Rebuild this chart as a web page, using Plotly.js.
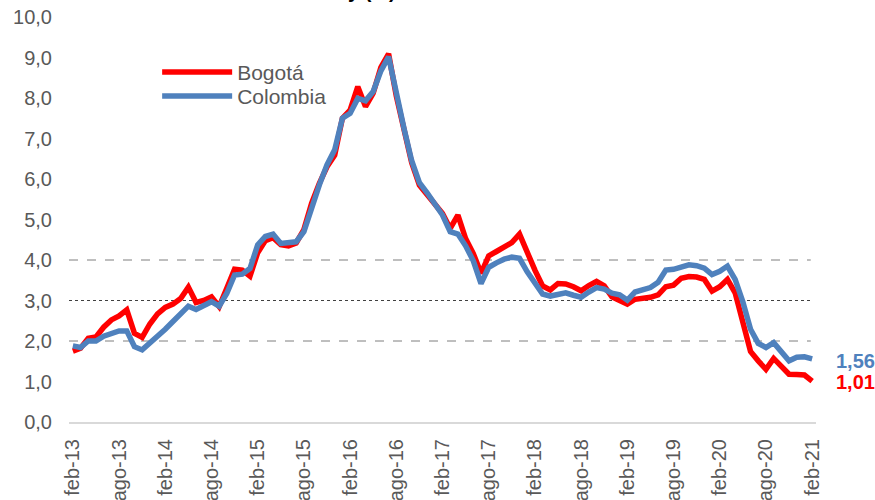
<!DOCTYPE html>
<html>
<head>
<meta charset="utf-8">
<script src="https://cdn.plot.ly/plotly-3.0.1.min.js"></script>
<style>
  html, body { margin: 0; padding: 0; background: #ffffff; }
  #chart { width: 875px; height: 500px; }
</style>
</head>
<body>
<div id="chart"></div>
<script>
// Categories (monthly, feb-13 .. feb-21)
const months = [
  "feb-13","mar-13","abr-13","may-13","jun-13","jul-13","ago-13","sep-13","oct-13","nov-13","dic-13","ene-14",
  "feb-14","mar-14","abr-14","may-14","jun-14","jul-14","ago-14","sep-14","oct-14","nov-14","dic-14","ene-15",
  "feb-15","mar-15","abr-15","may-15","jun-15","jul-15","ago-15","sep-15","oct-15","nov-15","dic-15","ene-16",
  "feb-16","mar-16","abr-16","may-16","jun-16","jul-16","ago-16","sep-16","oct-16","nov-16","dic-16","ene-17",
  "feb-17","mar-17","abr-17","may-17","jun-17","jul-17","ago-17","sep-17","oct-17","nov-17","dic-17","ene-18",
  "feb-18","mar-18","abr-18","may-18","jun-18","jul-18","ago-18","sep-18","oct-18","nov-18","dic-18","ene-19",
  "feb-19","mar-19","abr-19","may-19","jun-19","jul-19","ago-19","sep-19","oct-19","nov-19","dic-19","ene-20",
  "feb-20","mar-20","abr-20","may-20","jun-20","jul-20","ago-20","sep-20","oct-20","nov-20","dic-20","ene-21",
  "feb-21"
];

// Tick labels shown on the x axis
const tickLabels = ["feb-13","ago-13","feb-14","ago-14","feb-15","ago-15","feb-16","ago-16","feb-17",
  "ago-17","feb-18","ago-18","feb-19","ago-19","feb-20","ago-20","feb-21"];

// Series values (%)
const bogota = [
  1.75,1.82,2.07,2.10,2.34,2.52,2.62,2.77,2.19,2.09,2.42,2.67,
  2.83,2.91,3.05,3.33,2.95,3.00,3.09,2.85,3.31,3.77,3.75,3.60,
  4.18,4.48,4.55,4.38,4.35,4.42,4.75,5.40,5.89,6.30,6.59,7.50,
  7.70,8.28,7.79,8.12,8.76,9.09,8.05,7.21,6.40,5.85,5.63,5.38,
  5.15,4.78,5.11,4.53,4.16,3.67,4.10,4.21,4.31,4.43,4.64,4.18,
  3.75,3.36,3.26,3.42,3.41,3.34,3.24,3.37,3.47,3.36,3.09,3.00,
  2.91,3.03,3.04,3.08,3.14,3.34,3.38,3.55,3.59,3.58,3.52,3.23,
  3.34,3.52,3.19,2.52,1.74,1.51,1.30,1.57,1.37,1.18,1.17,1.16,
  1.01
];
const colombia = [
  1.88,1.84,2.00,2.00,2.12,2.20,2.25,2.25,1.86,1.78,1.94,2.12,
  2.29,2.48,2.67,2.86,2.78,2.86,2.97,2.86,3.18,3.63,3.65,3.79,
  4.37,4.58,4.64,4.41,4.42,4.45,4.70,5.32,5.85,6.35,6.72,7.50,
  7.62,7.99,7.93,8.16,8.67,9.02,8.09,7.25,6.45,5.91,5.66,5.40,
  5.11,4.70,4.64,4.35,3.98,3.42,3.82,3.93,4.02,4.07,4.04,3.71,
  3.41,3.16,3.11,3.14,3.19,3.13,3.08,3.21,3.32,3.28,3.18,3.14,
  3.01,3.21,3.26,3.32,3.45,3.75,3.77,3.84,3.88,3.86,3.80,3.64,
  3.72,3.85,3.52,2.97,2.29,1.94,1.84,1.96,1.73,1.51,1.60,1.61,
  1.56
];

// Reference lines drawn across the plot
const refLines = [2, 3, 4];
const yTicks = [0,1,2,3,4,5,6,7,8,9,10];

const FONT = '"Liberation Sans", Arial, sans-serif';
const RED = '#FF0000';
const BLUE = '#4F81BD';
const GREY = '#595959';

const fmt = (v, d) => v.toFixed(d).replace('.', ',');

const traces = [
  { x: months, y: bogota, name: 'Bogotá', type: 'scatter', mode: 'lines', legend: 'legend',
    line: { color: RED, width: 5.5, shape: 'linear' }, hoverinfo: 'skip' },
  { x: months, y: colombia, name: 'Colombia', type: 'scatter', mode: 'lines', legend: 'legend2',
    line: { color: BLUE, width: 5.5, shape: 'linear' }, hoverinfo: 'skip' }
];

const shapes = refLines.map(v => ({
  type: 'line', xref: 'paper', yref: 'y', x0: 0, x1: 0.993, y0: v, y1: v,
  line: { color: v === 3 ? '#404040' : '#7f7f7f', width: 1, dash: v === 3 ? 'dot' : 'dash' },
  layer: 'below'
}));

const lastIdx = months.length - 1;
const annotations = [
  { x: months[lastIdx], y: colombia[lastIdx], xref: 'x', yref: 'y', text: '<b>' + fmt(colombia[lastIdx], 2) + '</b>',
    showarrow: false, xanchor: 'left', yanchor: 'middle', xshift: 22, yshift: -2,
    font: { family: FONT, size: 20, color: BLUE } },
  { x: months[lastIdx], y: bogota[lastIdx], xref: 'x', yref: 'y', text: '<b>' + fmt(bogota[lastIdx], 2) + '</b>',
    showarrow: false, xanchor: 'left', yanchor: 'middle', xshift: 22, yshift: -1,
    font: { family: FONT, size: 20, color: RED } },
  { x: 0.405, y: 1.065, xref: 'paper', yref: 'paper', text: '<b>y (%)</b>', showarrow: false,
    xanchor: 'center', yanchor: 'middle', font: { family: FONT, size: 20, color: '#000000' } }
];

const legendBase = {
  xanchor: 'left', yanchor: 'top',
  bgcolor: 'rgba(0,0,0,0)', borderwidth: 0,
  font: { family: FONT, size: 21, color: GREY },
  itemwidth: 70
};

const layout = {
  width: 875, height: 500,
  margin: { l: 69, r: 59, t: 17, b: 78, pad: 0 },
  paper_bgcolor: '#ffffff', plot_bgcolor: '#ffffff',
  font: { family: FONT, size: 20, color: GREY },
  showlegend: true,
  legend: Object.assign({}, legendBase, { x: 0.118, y: 0.914 }),
  legend2: Object.assign({}, legendBase, { x: 0.118, y: 0.855 }),
  xaxis: {
    type: 'category', range: [-0.5, lastIdx + 0.5],
    tickmode: 'array', tickvals: tickLabels, ticktext: tickLabels,
    tickangle: -90, ticks: '', ticklabelstandoff: 7,
    tickfont: { family: FONT, size: 20, color: GREY },
    showgrid: false, zeroline: false,
    showline: true, linecolor: '#D9D9D9', linewidth: 2
  },
  yaxis: {
    range: [0, 10], tickmode: 'array', tickvals: yTicks,
    ticktext: yTicks.map(v => fmt(v, 1)),
    ticks: '', ticklabelstandoff: 16,
    tickfont: { family: FONT, size: 20, color: GREY },
    showgrid: false, zeroline: false, showline: false
  },
  shapes: shapes,
  annotations: annotations
};

Plotly.newPlot('chart', traces, layout, { staticPlot: true, displayModeBar: false });
</script>
</body>
</html>
